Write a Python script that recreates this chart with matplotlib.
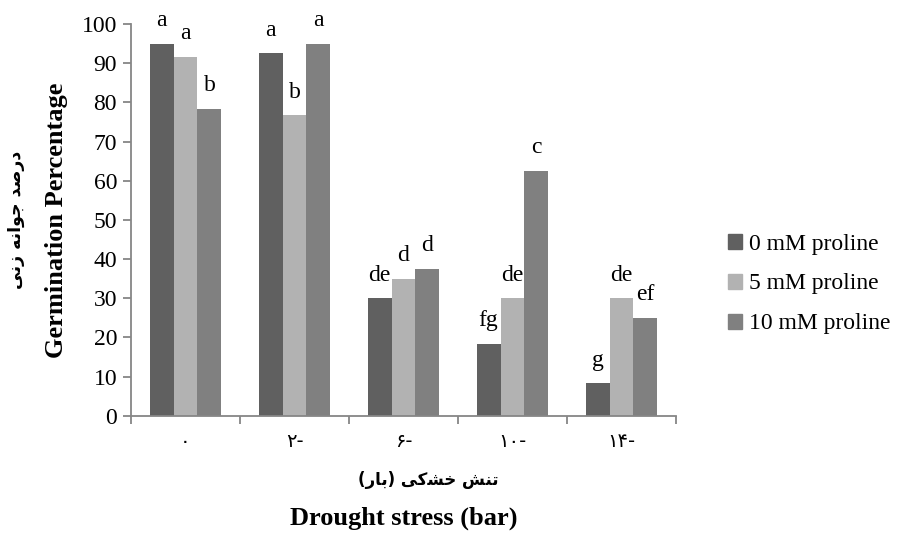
import matplotlib
matplotlib.use("Agg")
import numpy as np
import matplotlib.pyplot as plt
from matplotlib.patches import Patch

# داده ها
groups = ["\u06f0", "\u06f2-", "\u06f6-", "\u06f1\u06f0-", "\u06f1\u06f4-"]
series = ["0 mM proline", "5 mM proline", "10 mM proline"]
p0 = [95, 92.5, 30, 18.3, 8.3]
p5 = [91.7, 76.7, 35, 30, 30]
p10 = [78.3, 95, 37.5, 62.5, 25]
let0 = ["a", "a", "de", "fg", "g"]
let5 = ["a", "b", "d", "de", "de"]
let10 = ["b", "a", "d", "c", "ef"]
colors = ["#606060", "#b2b2b2", "#808080"]

# Persian labels written in shaped (presentation) forms, visual order
ylabel_fa = "\ufef0\ufee7\ufeaf \ufeea\ufee7\ufe8d\ufeee\ufe9f \ufeaa\ufebb\ufead\ufea9"
xlabel_fa = "(\ufead\ufe8e\ufe91) \ufef0\ufb90\ufeb8\ufea7 \ufeb6\ufee8\ufe97"

serif = ["Liberation Serif", "DejaVu Serif"]
fa_font = ["DejaVu Sans"]

fig = plt.figure(figsize=(8.98, 5.35), dpi=100)
ax = fig.add_axes([131 / 898, 1 - 415.7 / 535, (676 - 131) / 898, (415.7 - 24) / 535])

x = np.arange(len(groups))
w = 0.22
for i, (vals, lets) in enumerate(zip([p0, p5, p10], [let0, let5, let10])):
    xs = x + (i - 1) * w
    ax.bar(xs, vals, w, color=colors[i], label=series[i])
    for xx, v, t in zip(xs, vals, lets):
        ax.text(xx, v + 4.5, t, ha="center", va="baseline", fontsize=17, family=serif)

ax.set_xlim(-0.5, 4.5)
ax.set_ylim(0, 100)
ax.set_yticks(np.arange(0, 101, 10))
ax.set_yticklabels([str(v) for v in range(0, 101, 10)], family=serif, fontsize=17)
ax.set_xticks(np.arange(-0.5, 5, 1))
ax.set_xticklabels([])
ax.set_xticks(x, minor=True)
ax.set_xticklabels(groups, minor=True, family=fa_font, fontsize=14)
ax.tick_params(axis="x", which="minor", length=0, pad=12)
ax.tick_params(axis="x", which="major", length=6, color="#868686", width=1.3)
ax.tick_params(axis="y", length=6, color="#868686", width=1.3, pad=4)

for s in ["top", "right"]:
    ax.spines[s].set_visible(False)
for s in ["left", "bottom"]:
    ax.spines[s].set_color("#868686")
    ax.spines[s].set_linewidth(1.3)

fig.text(16 / 898, 1 - 220 / 535, ylabel_fa, rotation=90, ha="center", va="center",
         family=fa_font, fontsize=12.5, fontweight="bold")
fig.text(56 / 898, 1 - 220 / 535, "Germination Percentage", rotation=90, ha="center",
         va="center", family=serif, fontsize=19, fontweight="bold")
fig.text(428 / 898, 1 - 480 / 535, xlabel_fa, ha="center", va="center",
         family=fa_font, fontsize=12, fontweight="bold")
fig.text(404 / 898, 1 - 518 / 535, "Drought stress (bar)", ha="center", va="center",
         family=serif, fontsize=19, fontweight="bold")

handles = [Patch(color=c) for c in colors]
fig.legend(handles, series, loc="center left", bbox_to_anchor=(716 / 898, 1 - 284 / 535),
           frameon=False, prop={"family": serif, "size": 17}, handlelength=0.6,
           handleheight=0.6, handletextpad=0.3, labelspacing=0.8, borderpad=0)

fig.savefig("out.png", dpi=100)
